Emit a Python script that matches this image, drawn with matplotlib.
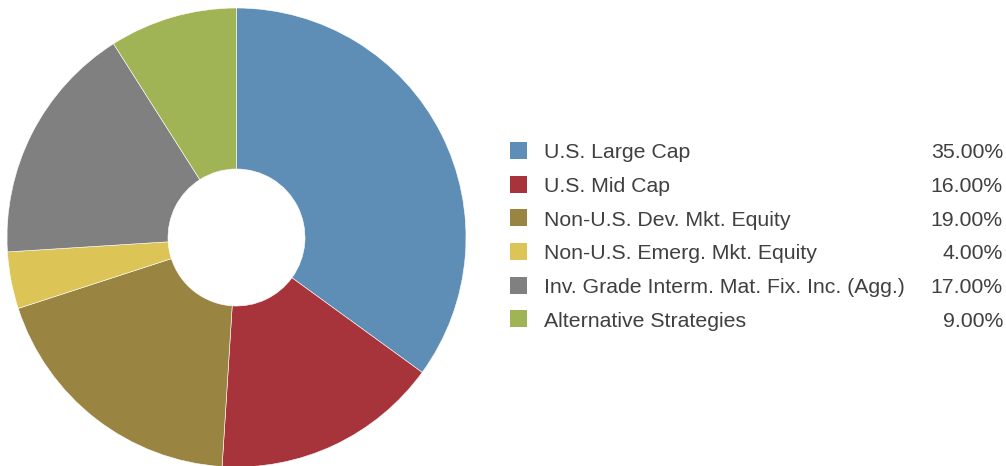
import matplotlib.pyplot as plt
from matplotlib.patches import Rectangle

plt.rcParams['font.family'] = ['Liberation Sans', 'DejaVu Sans']

categories = ['U.S. Large Cap', 'U.S. Mid Cap', 'Non-U.S. Dev. Mkt. Equity',
              'Non-U.S. Emerg. Mkt. Equity',
              'Inv. Grade Interm. Mat. Fix. Inc. (Agg.)', 'Alternative Strategies']
weights = [35.0, 16.0, 19.0, 4.0, 17.0, 9.0]
colors = ['#5e8db6', '#a8343b', '#9a8442', '#dcc456', '#808080', '#a0b456']

W, H = 1006, 466
fig = plt.figure(figsize=(W / 100, H / 100), dpi=100)
ax = fig.add_axes([0, 0, 1, 1])

# donut, drawn in pixel units
cx, cy, r_out, r_in = 236.5, H - 237.5, 229.5, 68.5
ax.pie(weights, colors=colors, startangle=90, counterclock=False,
       center=(cx, cy), radius=r_out,
       wedgeprops=dict(width=r_out - r_in, edgecolor='white', linewidth=0.4))

# legend rows with values on the right
base0, dy = 158.3, 33.7
for i, (lab, val, col) in enumerate(zip(categories, weights, colors)):
    yb = H - (base0 + i * dy)
    ax.add_patch(Rectangle((510, yb - 0.5), 17, 17, facecolor=col, edgecolor='none'))
    ax.text(544, yb, lab, fontsize=15.3, color='#404040', va='baseline', ha='left')
    ax.text(1003, yb, f'{val:.2f}%', fontsize=15.3, color='#404040', va='baseline', ha='right')

ax.set_xlim(0, W)
ax.set_ylim(0, H)
ax.set_aspect('auto')
ax.axis('off')

fig.savefig('out.png', dpi=100)
